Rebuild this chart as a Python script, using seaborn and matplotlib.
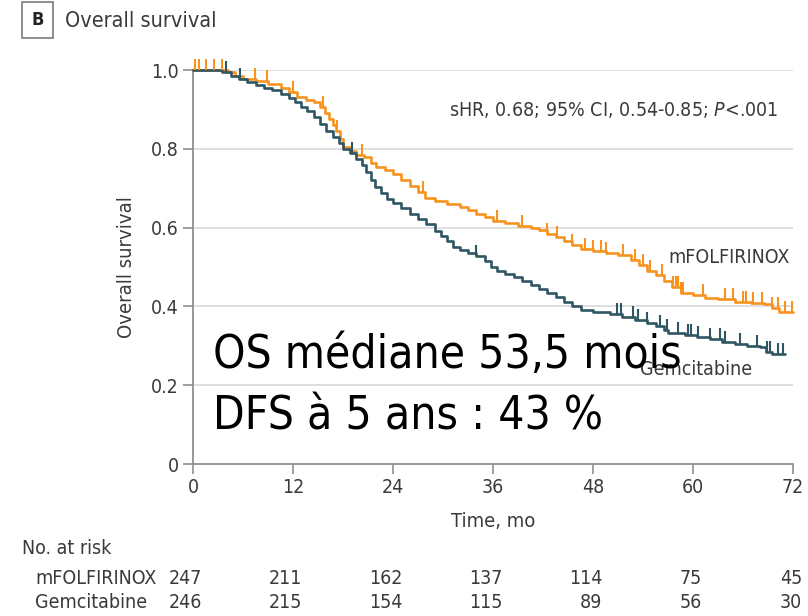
import numpy as np
import pandas as pd
import matplotlib
matplotlib.use("Agg")
import matplotlib.pyplot as plt
import matplotlib.transforms as mtransforms
from matplotlib.path import Path
import seaborn as sns

# ---------------- data ----------------
groups = ["mFOLFIRINOX", "Gemcitabine"]

folf_t = [0, 4.2, 5.0, 6.0, 7.5, 9.0, 10.5, 11.5, 12.5, 13.5, 14.5, 15.2, 15.8, 16.3,
          16.8, 17.2, 17.6, 18.0, 18.8, 19.5, 20.5, 21.3, 22.0, 23.0, 24.0, 25.0, 26.0,
          27.0, 27.8, 29.0, 30.5, 32.0, 33.0, 34.0, 35.0, 36.0, 37.5, 39.0, 40.5, 41.5,
          42.5, 43.5, 44.5, 45.5, 46.5, 48.0, 49.5, 51.0, 52.5, 53.5, 54.5, 55.5, 56.5,
          57.5, 58.5, 60.0, 61.5, 63.0, 65.0, 67.0, 68.5, 69.5, 70.3, 72.0]
folf_s = [1.0, 0.995, 0.985, 0.978, 0.972, 0.965, 0.955, 0.945, 0.932, 0.925, 0.918,
          0.905, 0.89, 0.875, 0.86, 0.845, 0.825, 0.805, 0.795, 0.785, 0.778, 0.765,
          0.755, 0.745, 0.735, 0.72, 0.705, 0.69, 0.675, 0.668, 0.66, 0.652, 0.645,
          0.635, 0.628, 0.618, 0.612, 0.605, 0.598, 0.593, 0.585, 0.575, 0.565, 0.555,
          0.545, 0.54, 0.535, 0.53, 0.518, 0.505, 0.49, 0.48, 0.465, 0.45, 0.435, 0.43,
          0.422, 0.418, 0.412, 0.408, 0.405, 0.395, 0.385, 0.385]

gem_t = [0, 3.5, 4.5, 5.5, 6.5, 7.5, 8.5, 9.5, 10.5, 11.5, 12.2, 13.0, 13.7, 14.5, 15.2,
         16.0, 16.8, 17.5, 18.0, 18.8, 19.5, 20.3, 20.8, 21.3, 21.8, 22.5, 23.3, 24.0,
         25.0, 26.0, 27.0, 28.0, 29.0, 29.8, 30.5, 31.2, 32.0, 33.0, 34.0, 35.0, 35.8,
         36.5, 37.5, 38.5, 39.5, 40.5, 41.5, 42.5, 43.5, 44.5, 45.5, 46.5, 48.0, 50.0,
         51.5, 53.0, 54.5, 55.5, 56.5, 57.0, 59.0, 60.5, 62.0, 63.5, 65.0, 66.5, 68.0,
         68.8, 69.5, 71.0]
gem_s = [1.0, 0.995, 0.985, 0.978, 0.97, 0.962, 0.955, 0.948, 0.94, 0.928, 0.918, 0.905,
         0.895, 0.88, 0.862, 0.845, 0.83, 0.815, 0.8, 0.79, 0.775, 0.76, 0.74, 0.72,
         0.703, 0.688, 0.672, 0.662, 0.65, 0.635, 0.622, 0.608, 0.592, 0.578, 0.565,
         0.552, 0.542, 0.535, 0.527, 0.515, 0.5, 0.49, 0.482, 0.475, 0.465, 0.455,
         0.445, 0.435, 0.425, 0.412, 0.4, 0.39, 0.385, 0.38, 0.372, 0.366, 0.358, 0.35,
         0.34, 0.332, 0.327, 0.322, 0.316, 0.31, 0.305, 0.3, 0.297, 0.285, 0.278, 0.278]

folf_cens = [0.2, 0.7, 1.5, 2.5, 3.5, 7.4, 8.9, 12.0, 15.6, 17.3, 20.3, 27.6, 36.5, 39.5,
             42.5, 43.7, 45.5, 47.0, 48.0, 49.0, 49.5, 51.6, 53.0, 54.0, 54.8, 56.3, 57.6,
             57.9, 58.2, 58.5, 58.8, 61.2, 63.8, 64.8, 66.0, 66.4, 67.2, 68.3, 69.5, 70.2,
             71.0, 71.9]
gem_cens = [4.0, 5.6, 19.1, 34.0, 50.9, 51.4, 52.8, 53.4, 54.5, 56.0, 56.9, 58.2, 59.4,
            59.8, 60.6, 62.0, 63.2, 63.8, 65.6, 67.7, 68.9, 69.2, 70.2, 70.8]

risk_times = [0, 12, 24, 36, 48, 60, 72]
risk_folf = [247, 211, 162, 137, 114, 75, 45]
risk_gem = [246, 215, 154, 115, 89, 56, 30]

x_ticks = [0, 12, 24, 36, 48, 60, 72]
y_ticks = [0, 0.2, 0.4, 0.6, 0.8, 1.0]
y_ticklabels = ["0", "0.2", "0.4", "0.6", "0.8", "1.0"]

# ---------------- style ----------------
sns.set_theme(style="white")
plt.rcParams["font.family"] = ["DejaVu Sans"]
plt.rcParams["font.stretch"] = "condensed"
plt.rcParams["mathtext.fontset"] = "custom"
plt.rcParams["mathtext.rm"] = "DejaVu Sans"
plt.rcParams["mathtext.it"] = "DejaVu Sans:italic"

TXT = "#3a3a3a"
ORANGE = "#F7931E"
TEAL = "#2E5663"
palette = {"mFOLFIRINOX": ORANGE, "Gemcitabine": TEAL}

df = pd.concat([
    pd.DataFrame({"time": folf_t, "surv": folf_s, "group": groups[0]}),
    pd.DataFrame({"time": gem_t, "surv": gem_s, "group": groups[1]}),
], ignore_index=True)

fig = plt.figure(figsize=(8.08, 6.16), dpi=100)
ax = fig.add_axes([193 / 808, 1 - 464 / 616, 600 / 808, 394 / 616])

# gridlines
for yv in y_ticks[1:]:
    ax.axhline(yv, color="#dcdcdc", lw=1.3, zorder=0)

sns.lineplot(data=df, x="time", y="surv", hue="group", palette=palette,
             estimator=None, sort=False, drawstyle="steps-post", lw=1.9,
             legend=False, ax=ax, clip_on=False, zorder=3)

# censor marks (upward ticks)
tick_marker = Path([(0, 0), (0, 1)], [Path.MOVETO, Path.LINETO])
for tt, ss, cens, col in [(folf_t, folf_s, folf_cens, ORANGE),
                          (gem_t, gem_s, gem_cens, TEAL)]:
    tt = np.asarray(tt)
    ss = np.asarray(ss)
    idx = np.searchsorted(tt, cens, side="right") - 1
    ax.plot(cens, ss[idx], linestyle="none", marker=tick_marker, markersize=16,
            markeredgecolor=col, markeredgewidth=1.5, clip_on=False, zorder=3)

ax.set_xlim(0, 72)
ax.set_ylim(0, 1.0)
ax.set_xticks(x_ticks)
ax.set_yticks(y_ticks)
ax.set_yticklabels(y_ticklabels)
for s in ["top", "right"]:
    ax.spines[s].set_visible(False)
for s in ["left", "bottom"]:
    ax.spines[s].set_color("#8f8f8f")
    ax.spines[s].set_linewidth(1.3)
ax.tick_params(axis="both", which="major", direction="out", length=7, width=1.2,
               color="#8f8f8f", labelsize=14, labelcolor=TXT, pad=3,
               left=True, bottom=True)

ax.set_xlabel("Time, mo", fontsize=14.5, color=TXT, va="center")
ax.xaxis.set_label_coords(0.5, -0.145)
ax.set_ylabel("Overall survival", fontsize=14.5, color=TXT, va="center")
ax.yaxis.set_label_coords(-0.11, 0.5)

# annotations in the plot
ax.text(70.2, 0.898, "sHR, 0.68; 95% CI, 0.54-0.85; $P$<.001", ha="right",
        va="center", fontsize=14, color=TXT)
ax.text(71.6, 0.523, "mFOLFIRINOX", ha="right", va="center", fontsize=14, color=TXT)
ax.text(67.1, 0.239, "Gemcitabine", ha="right", va="center", fontsize=14, color=TXT)

# header
fig.text(37.5 / 808, 1 - 20 / 616, "B", ha="center", va="center", fontsize=13,
         fontweight="bold", color="#222222",
         bbox=dict(boxstyle="square,pad=0.5", fc="white", ec="#7a7a7a", lw=1.2))
fig.text(65 / 808, 1 - 21 / 616, "Overall survival", ha="left", va="center",
         fontsize=15.5, color=TXT)

# number at risk table
fig.text(22 / 808, 1 - 548 / 616, "No. at risk", ha="left", va="center",
         fontsize=14, color=TXT)
fig.text(35 / 808, 1 - 578 / 616, "mFOLFIRINOX", ha="left", va="center",
         fontsize=14, color=TXT)
fig.text(35 / 808, 1 - 603 / 616, "Gemcitabine", ha="left", va="center",
         fontsize=14, color=TXT)
blend = mtransforms.blended_transform_factory(ax.transData, fig.transFigure)
for t, a, b in zip(risk_times, risk_folf, risk_gem):
    ax.text(t + 1.1, 1 - 578 / 616, str(a), transform=blend, ha="right",
            va="center", fontsize=14, color=TXT, clip_on=False)
    ax.text(t + 1.1, 1 - 603 / 616, str(b), transform=blend, ha="right",
            va="center", fontsize=14, color=TXT, clip_on=False)

# overlay text
BIG = dict(fontsize=33, color="black", family="DejaVu Sans",
           fontstretch="condensed", ha="left", va="baseline")
fig.text(213 / 808, 1 - 368 / 616, "OS médiane 53,5 mois", zorder=10, **BIG)
fig.text(213 / 808, 1 - 430 / 616, "DFS à 5 ans : 43 %", zorder=10, **BIG)

fig.savefig("out.png", dpi=100, facecolor="white")
